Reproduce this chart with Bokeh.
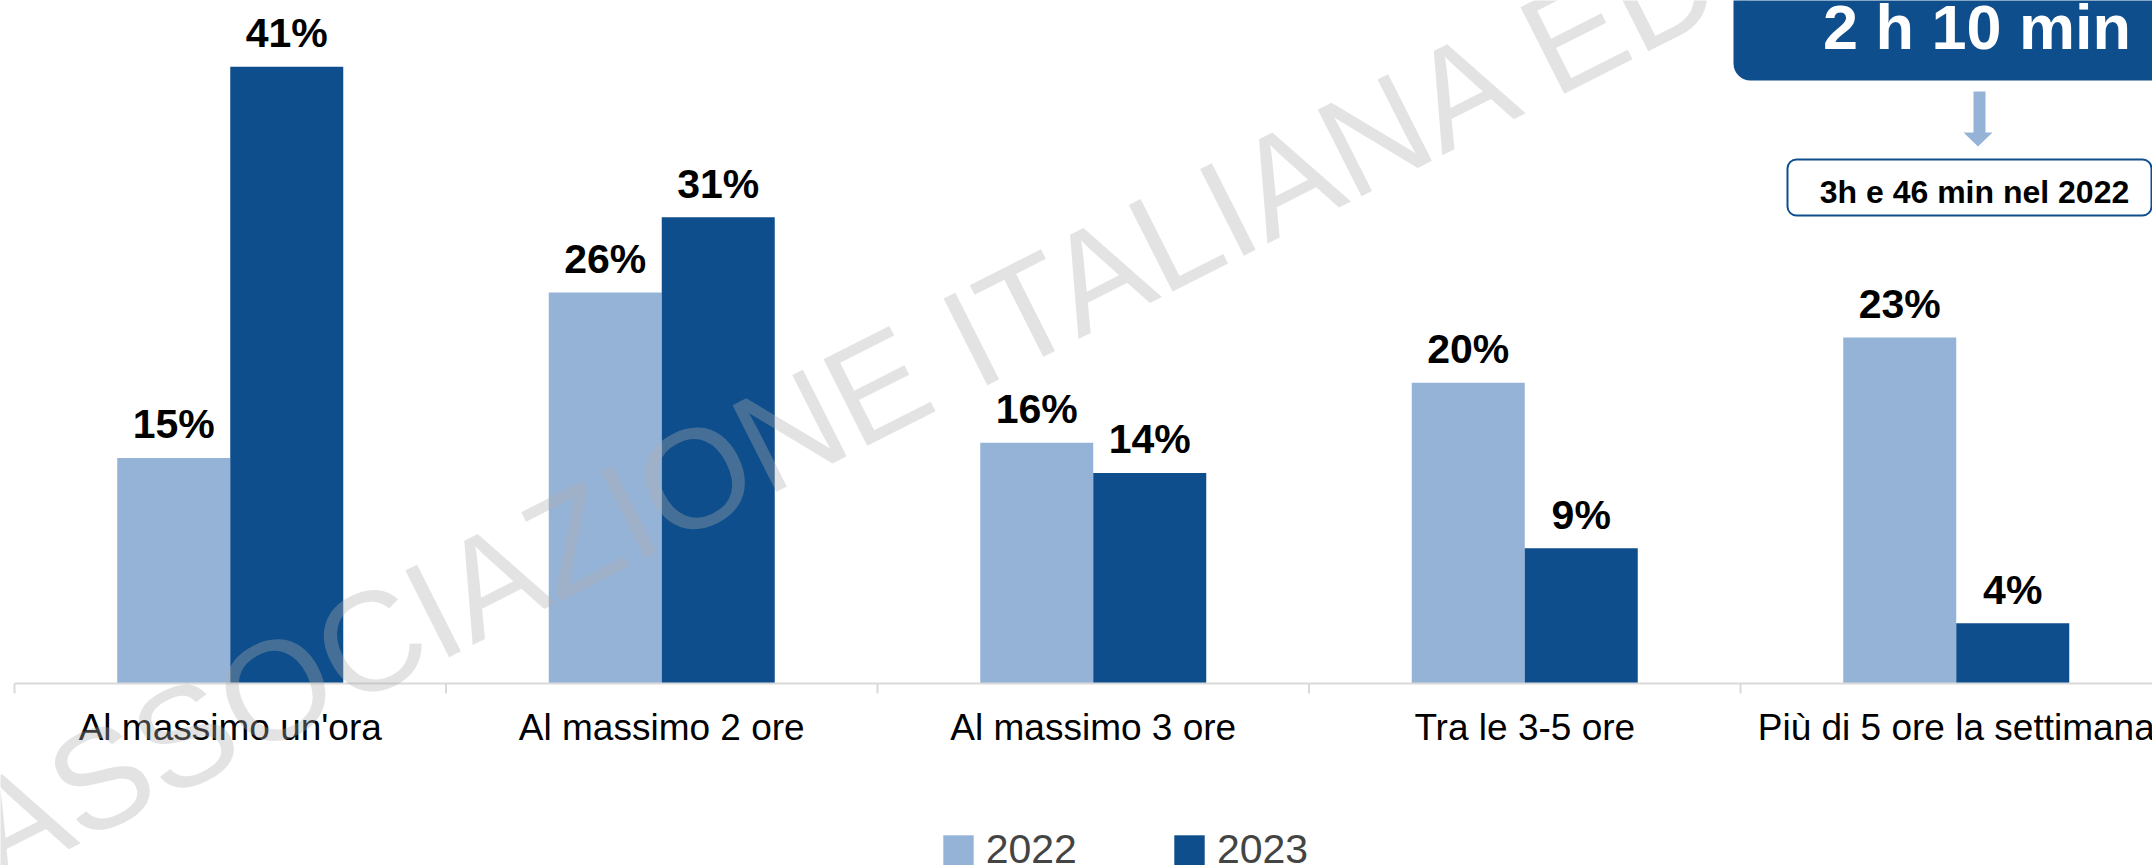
import math
from bokeh.plotting import figure
from bokeh.models import (Range1d, Legend, LegendItem, Label,
                          BoxAnnotation, PolyAnnotation, ColumnDataSource)
from bokeh.embed import file_html
from bokeh.resources import INLINE
from bokeh.core.properties import value

# ---------------- data ----------------
categories = ["Al massimo un'ora", "Al massimo 2 ore", "Al massimo 3 ore",
              "Tra le 3-5 ore", "Più di 5 ore la settimana"]
years = ["2022", "2023"]
values_2022 = [15, 26, 16, 20, 23]
values_2023 = [41, 31, 14, 9, 4]
headline = "2 h 10 min"
subline = "3h e 46 min nel 2022"
watermark = "ASSOCIAZIONE ITALIANA EDITORI"

# ---------------- style / layout ----------------
LIGHT = "#95b3d7"
DARK = "#0f4e8c"
AXIS = "#d9d9d9"
FONT = "Liberation Sans"
W, H = 2152, 865
AXIS_Y = 683             # axis line, px from top
CAT_PX = 431.5           # pixels per category
X0_PX = 14.0             # first category boundary from left
PX_PER_PCT = 15.04
BAR_PX = 113.0
TICK_PX = 10
DROP = 0.33              # empirical baseline correction (fraction of font size)

x_start = -X0_PX / CAT_PX
x_end = x_start + W / CAT_PX
y_start = -(H - AXIS_Y) / PX_PER_PCT
y_end = AXIS_Y / PX_PER_PCT

n = len(categories)
centers = [i + 0.5 for i in range(n)]
bounds = list(range(n + 1))
bw = BAR_PX / CAT_PX

src = ColumnDataSource(dict(
    x22=[c - bw / 2 for c in centers],
    x23=[c + bw / 2 for c in centers],
    v22=values_2022,
    v23=values_2023,
    l22=[f"{v}%" for v in values_2022],
    l23=[f"{v}%" for v in values_2023],
))
cat_src = ColumnDataSource(dict(x=centers, y=[0] * n, text=categories))

p = figure(width=W, height=H, output_backend="svg", toolbar_location=None,
           x_range=Range1d(x_start, x_end), y_range=Range1d(y_start, y_end),
           x_axis_location=None, y_axis_location=None,
           min_border=0)
p.grid.visible = False
p.outline_line_color = None
p.background_fill_color = "white"
p.border_fill_color = "white"

r22 = p.vbar(x="x22", top="v22", bottom=0, width=bw, source=src,
             fill_color=LIGHT, line_color=None)
r23 = p.vbar(x="x23", top="v23", bottom=0, width=bw, source=src,
             fill_color=DARK, line_color=None)

# category axis: baseline, boundary ticks, labels
p.segment(x0=[bounds[0]], y0=[0], x1=[bounds[-1]], y1=[0], line_color=AXIS, line_width=2)
p.segment(x0=bounds, y0=[0] * len(bounds), x1=bounds,
          y1=[-TICK_PX / PX_PER_PCT] * len(bounds), line_color=AXIS, line_width=2)
CAT_FS = 37
p.text(x="x", y="y", text="text", source=cat_src, text_align="center",
       text_baseline="alphabetic", y_offset=(739 - AXIS_Y) - DROP * CAT_FS,
       text_font=value(FONT), text_font_size=f"{CAT_FS}px", text_color="black")

VAL_FS = 41
for xcol, ycol, lcol in (("x22", "v22", "l22"), ("x23", "v23", "l23")):
    p.text(x=xcol, y=ycol, text=lcol, source=src, text_align="center",
           text_baseline="alphabetic", y_offset=-(20 + DROP * VAL_FS),
           text_font=value(FONT), text_font_style="bold",
           text_font_size=f"{VAL_FS}px", text_color="black")

# watermark (baseline start point in page px, angle, size)
WM_FS = 141
WM_ANG = 26.8
WM_X, WM_Y = -4.7, 882.8
a = math.radians(WM_ANG)
req_x = WM_X - DROP * WM_FS * math.sin(a)
req_y = WM_Y - DROP * WM_FS * math.cos(a)
p.add_layout(Label(x=req_x, y=H - req_y, x_units="screen", y_units="screen", text=watermark,
                   angle=WM_ANG, angle_units="deg", text_font=FONT,
                   text_font_size=f"{WM_FS}px", text_color="#b0b0b0", text_alpha=0.35,
                   text_align="left", text_baseline="alphabetic"))

# legend
legend = Legend(items=[LegendItem(label=years[0], renderers=[r22]),
                       LegendItem(label=years[1], renderers=[r23])],
                orientation="horizontal", location=(938.7, -8),
                glyph_width=38, glyph_height=38, label_standoff=9, spacing=93,
                label_text_font=FONT, label_text_font_size="41px",
                border_line_color=None, background_fill_alpha=0, padding=0, margin=0)
p.add_layout(legend, "center")

# headline box
p.add_layout(BoxAnnotation(left=1733, right=2400, bottom=H - 80, top=H + 100,
                           left_units="screen", right_units="screen",
                           top_units="screen", bottom_units="screen",
                           fill_color=DARK, fill_alpha=1, line_color=None,
                           border_radius=17))
p.add_layout(Label(x=1976.5, y=H - (47 - DROP * 63), x_units="screen", y_units="screen",
                   text=headline, text_font=FONT, text_font_style="bold",
                   text_font_size="63px", text_color="white", text_align="center",
                   text_baseline="alphabetic"))

# arrow
ax_pts = [1973, 1985, 1985, 1992, 1977.5, 1963, 1973]
ay_pts = [91, 91, 132, 132, 146, 132, 132]
p.add_layout(PolyAnnotation(xs=ax_pts, ys=[H - y for y in ay_pts],
                            xs_units="screen", ys_units="screen",
                            fill_color=LIGHT, fill_alpha=1, line_color=None))

# sub box
p.add_layout(BoxAnnotation(left=1787, right=2151, bottom=H - 215, top=H - 159,
                           left_units="screen", right_units="screen",
                           top_units="screen", bottom_units="screen",
                           fill_color="white", fill_alpha=1, line_color=DARK,
                           line_width=2, line_alpha=1, border_radius=9))
p.add_layout(Label(x=1974, y=H - (202 - DROP * 32), x_units="screen", y_units="screen",
                   text=subline, text_font=FONT, text_font_style="bold",
                   text_font_size="32px", text_color="black", text_align="center",
                   text_baseline="alphabetic"))

open("out.html", "w").write(file_html(p, INLINE))
